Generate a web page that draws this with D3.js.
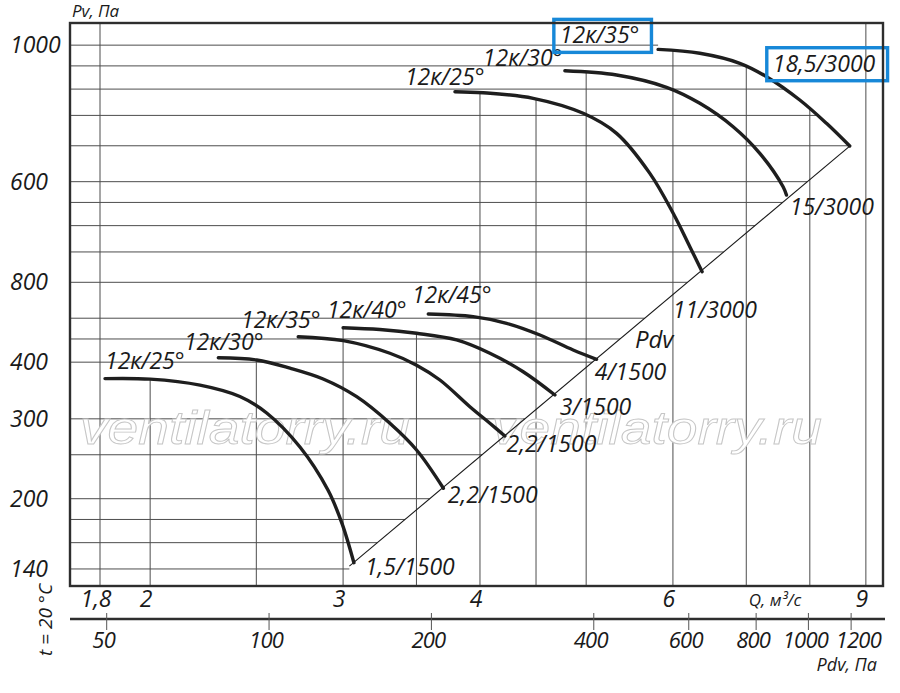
<!DOCTYPE html>
<html>
<head>
<meta charset="utf-8">
<script src="https://d3js.org/d3.v7.min.js"></script>
<style>
  body { margin: 0; background: #fff; }
  svg text { font-family: 'Open Sans', sans-serif; font-style: italic; fill: #1a1a1a; }
</style>
</head>
<body>
<div class="chart"></div>
<script>
const width = 900;
const height = 693;

// Q, m3/s (bottom axis) and Pv, Pa (left axis)
const qGrid = [1.8, 2, 2.5, 3, 3.5, 4, 4.5, 5, 6, 7, 8, 9];
const qTicks = [1.8, 2, 3, 4, 6, 9];
const pvGrid = [140, 160, 180, 200, 250, 300, 400, 450, 500, 600, 700, 800, 900, 1000, 1200, 1400, 1600, 1800, 2000];
const pvTicks = [2000, 1000, 600, 400, 300, 200, 140];
const pvTickLabels = ['1000', '600', '800', '400', '300', '200', '140'];
const pdvTicks = [50, 100, 200, 400, 600, 800, 1000, 1200];

// fan curves [Q, Pv], 1500 rpm
const low25 = [[1.819, 368], [2.0, 367], [2.221, 356], [2.415, 336], [2.555, 309], [2.74, 260], [2.906, 209], [2.993, 176.5], [3.069, 144.5]];
const low30 = [[2.308, 409], [2.502, 404.5], [2.683, 388], [2.877, 367.3], [3.087, 335.7], [3.31, 293.3], [3.501, 256.1], [3.704, 210.9]];
const low35 = [[2.73, 455.2], [3.001, 446.1], [3.31, 418.5], [3.501, 394], [3.677, 365.4], [3.916, 319.1], [4.084, 293.3], [4.215, 275]];
const low40 = [[3.0, 476.5], [3.241, 472.2], [3.501, 463.2], [3.808, 447.7], [4.084, 418.5], [4.38, 381.1], [4.682, 338.6]];
const low45 = [[3.588, 510.8], [3.943, 503.9], [4.23, 487.3], [4.537, 459.2], [4.865, 425.5], [5.11, 405.9]];
// fan curves [Q, Pv], 3000 rpm
const high25 = [[3.795, 1579], [4.027, 1571], [4.473, 1527], [4.969, 1415], [5.33, 1278], [5.716, 1043], [6.003, 851.7], [6.217, 718.8], [6.38, 633.2]];
const high30 = [[4.781, 1756], [5.33, 1718.5], [5.92, 1614.6], [6.349, 1488.6], [6.809, 1322], [7.202, 1155], [7.563, 974.8], [7.617, 934.6]];
const high35 = [[5.816, 1958], [6.349, 1919], [6.905, 1824], [7.304, 1704], [7.833, 1514], [8.285, 1345], [8.7, 1198.5]];
// Pv = Pdv line
const pdvLine = [[3.04, 142], [8.70, 1198]];

const curves = [low25, low30, low35, low40, low45, high25, high30, high35];

// annotations, anchored in [Q, Pv]
const curveNames = ['12к/25°', '12к/30°', '12к/35°', '12к/40°', '12к/45°', '12к/25°', '12к/30°', '12к/35°'];
const curveNameAt = [[1.819, 386], [2.147, 425.5], [2.421, 476.5], [2.9, 501.4], [3.467, 539.4], [3.416, 1634], [4.024, 1802], [4.731, 2018]];
const motorNames = ['1,5/1500', '2,2/1500', '2,2/1500', '3/1500', '4/1500', '11/3000', '15/3000', '18,5/3000'];
const motorAt = [[3.141, 135.8], [3.739, 195.4], [4.23, 253.9], [4.731, 305.9], [5.092, 365.4], [5.999, 499.8], [7.67, 844.4], [7.401, 1747.6]];
const boxedNames = [7];
const boxedMotors = [7];

const plotLeft = 70, plotRight = 883, plotTop = 23, plotBottom = 586;

const svg = d3
    .select('div.chart')
    .append('svg')
    .attr('width', width)
    .attr('height', height);

const x = d3.scaleLog().domain([1.69, 9.33]).range([plotLeft, plotRight]);
const y = d3.scaleLog().domain([128.4, 2238]).range([plotBottom, plotTop]);
const xPdv = d3.scaleLog().domain([42.75, 1375]).range([plotLeft, plotRight]);

// log-log interpolation along a polyline
function lerpLog(a, b, t) {
  return Math.exp(Math.log(a) + (Math.log(b) - Math.log(a)) * t);
}
function pvAt(pts, q) {
  for (let i = 0; i < pts.length - 1; i++) {
    const [q0, p0] = pts[i];
    const [q1, p1] = pts[i + 1];
    if (q >= q0 - 1e-6 && q <= q1 + 1e-6) {
      const t = (Math.log(q) - Math.log(q0)) / (Math.log(q1) - Math.log(q0));
      return lerpLog(p0, p1, t);
    }
  }
  return null;
}
function qAt(pts, pv) {
  for (let i = 0; i < pts.length - 1; i++) {
    const [q0, p0] = pts[i];
    const [q1, p1] = pts[i + 1];
    if ((pv - p0) * (pv - p1) <= 0) {
      const t = (Math.log(pv) - Math.log(p0)) / (Math.log(p1) - Math.log(p0));
      return lerpLog(q0, q1, t);
    }
  }
  return null;
}

// grid: verticals stop at the upper envelope of the curves
const grid = svg.append('g').attr('stroke', '#4d4d4d').attr('stroke-width', 1);
qGrid.forEach(function(q, i) {
  let yTop = plotTop;
  if (i > 0 && i < qGrid.length - 1) {
    const vals = curves.map((c) => pvAt(c, q)).filter((v) => v !== null);
    if (vals.length) yTop = y(d3.max(vals));
  }
  grid.append('line')
      .attr('x1', x(q)).attr('x2', x(q))
      .attr('y1', yTop).attr('y2', plotBottom);
});

// horizontals stop at the Pdv line or at the outer curve
pvGrid.forEach(function(pv) {
  let qEnd;
  const dTop = pdvLine[1][1];
  const dBot = pdvLine[0][1];
  if (pv <= dBot) {
    qEnd = pdvLine[0][0];
  } else if (pv <= dTop) {
    qEnd = qAt(pdvLine, pv);
  } else {
    qEnd = qAt(high35, pv) || high35[0][0];
  }
  grid.append('line')
      .attr('x1', plotLeft).attr('x2', x(qEnd))
      .attr('y1', y(pv)).attr('y2', y(pv));
});

// watermark
[80, 492].forEach(function(wx) {
  svg.append('text')
      .attr('x', wx)
      .attr('y', 444)
      .attr('textLength', 330)
      .attr('lengthAdjust', 'spacingAndGlyphs')
      .style('font-family', "'Liberation Sans', sans-serif")
      .style('font-size', '46px')
      .style('fill', '#fff')
      .style('stroke', '#c6c6c6')
      .style('stroke-width', 0.9)
      .text('ventilatorry.ru');
});

const line = d3.line()
    .x((d) => x(d[0]))
    .y((d) => y(d[1]));

svg.append('path')
    .datum(pdvLine)
    .attr('d', line)
    .attr('fill', 'none')
    .attr('stroke', '#1a1a1a')
    .attr('stroke-width', 1.1);

const smooth = d3.line()
    .x((d) => x(d[0]))
    .y((d) => y(d[1]))
    .curve(d3.curveCatmullRom.alpha(0.5));

svg.selectAll('path.curve')
    .data(curves)
    .enter()
    .append('path')
    .attr('class', 'curve')
    .attr('d', smooth)
    .attr('fill', 'none')
    .attr('stroke', '#1e1e1e')
    .attr('stroke-width', 3.4)
    .attr('stroke-linecap', 'round');

function addLabels(names, at, boxed) {
  names.forEach(function(name, i) {
    const t = svg.append('text')
        .attr('x', x(at[i][0]))
        .attr('y', y(at[i][1]))
        .style('font-size', '23px')
        .text(name);
    if (boxed.includes(i)) {
      const b = t.node().getBBox();
      svg.append('rect')
          .attr('x', b.x - 6)
          .attr('y', b.y + 1)
          .attr('width', b.width + 18)
          .attr('height', b.height + 1)
          .attr('fill', 'none')
          .attr('stroke', '#1788d8')
          .attr('stroke-width', 3.4);
    }
  });
}
addLabels(curveNames, curveNameAt, boxedNames);
addLabels(motorNames, motorAt, boxedMotors);

svg.append('text')
    .attr('x', x(5.539))
    .attr('y', y(429.2))
    .style('font-size', '24px')
    .text('Pdv');

// frame
svg.append('rect')
    .attr('x', plotLeft).attr('y', plotTop)
    .attr('width', plotRight - plotLeft).attr('height', plotBottom - plotTop)
    .attr('fill', 'none')
    .attr('stroke', '#2e2e2e')
    .attr('stroke-width', 2.4);

// left tick labels
svg.selectAll('text.pv')
    .data(pvTicks)
    .enter()
    .append('text')
    .attr('class', 'pv')
    .attr('x', 10)
    .attr('y', (d) => y(d) + 8)
    .style('font-size', '23px')
    .text((d, i) => pvTickLabels[i]);

svg.append('text')
    .attr('x', 72).attr('y', 17)
    .style('font-size', '17px')
    .text('Pv, Па');

// Q labels
svg.selectAll('text.q')
    .data(qTicks)
    .enter()
    .append('text')
    .attr('class', 'q')
    .attr('x', (d) => x(d) - 4)
    .attr('y', 607)
    .attr('text-anchor', 'middle')
    .style('font-size', '23px')
    .text((d) => String(d).replace('.', ','));

svg.append('text')
    .attr('x', 775).attr('y', 606)
    .attr('text-anchor', 'middle')
    .style('font-size', '17px')
    .text('Q, м³/с');

// Pdv axis
const pdvY = 619;
svg.append('line')
    .attr('x1', plotLeft).attr('x2', plotRight + 2)
    .attr('y1', pdvY).attr('y2', pdvY)
    .attr('stroke', '#2e2e2e')
    .attr('stroke-width', 2.4);

svg.selectAll('line.pdv')
    .data(pdvTicks)
    .enter()
    .append('line')
    .attr('class', 'pdv')
    .attr('x1', (d) => xPdv(d)).attr('x2', (d) => xPdv(d))
    .attr('y1', pdvY - 6).attr('y2', pdvY + 11)
    .attr('stroke', '#555')
    .attr('stroke-width', 1);

svg.selectAll('text.pdv')
    .data(pdvTicks)
    .enter()
    .append('text')
    .attr('class', 'pdv')
    .attr('x', (d, i) => i === pdvTicks.length - 1 ? plotRight - 2 : xPdv(d) - 3)
    .attr('y', 648)
    .attr('text-anchor', (d, i) => i === pdvTicks.length - 1 ? 'end' : 'middle')
    .style('font-size', '22px')
    .style('letter-spacing', '-0.8px')
    .text((d) => d);

svg.append('text')
    .attr('x', 877).attr('y', 671)
    .attr('text-anchor', 'end')
    .style('font-size', '18px')
    .text('Pdv, Па');

svg.append('text')
    .attr('transform', 'translate(52,620) rotate(-90)')
    .attr('text-anchor', 'middle')
    .style('font-size', '19px')
    .text('t = 20 °C');
</script>
</body>
</html>
